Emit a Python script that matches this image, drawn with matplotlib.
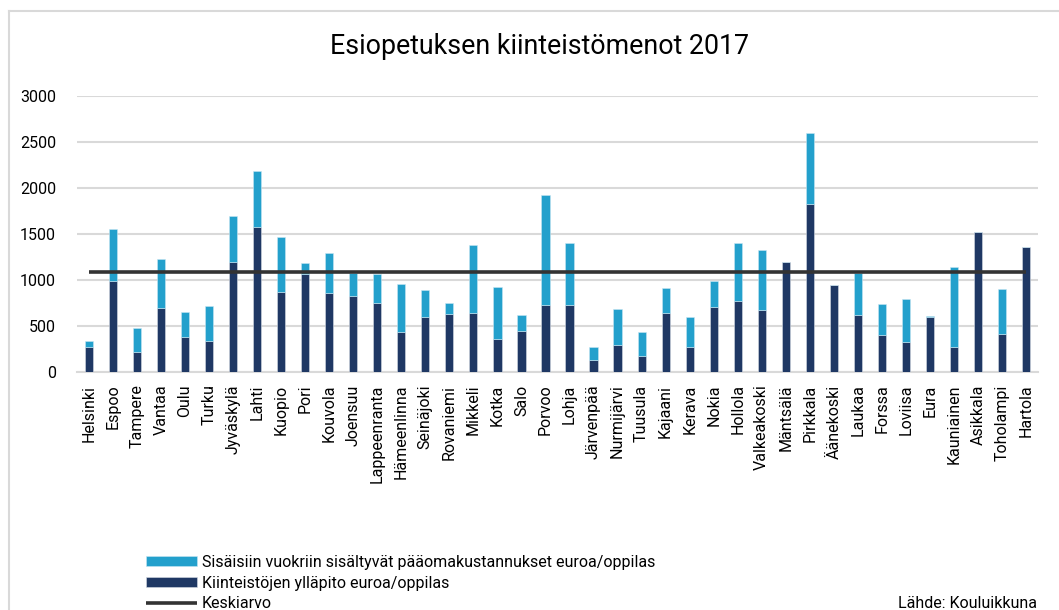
import matplotlib.pyplot as plt
import numpy as np

plt.rc('font', family=['Roboto', 'DejaVu Sans'], size=11.5)

# Data =======================================================================
kunnat = ['Helsinki', 'Espoo', 'Tampere', 'Vantaa', 'Oulu', 'Turku', 'Jyväskylä',
          'Lahti', 'Kuopio', 'Pori', 'Kouvola', 'Joensuu', 'Lappeenranta',
          'Hämeenlinna', 'Seinäjoki', 'Rovaniemi', 'Mikkeli', 'Kotka', 'Salo',
          'Porvoo', 'Lohja', 'Järvenpää', 'Nurmijärvi', 'Tuusula', 'Kajaani',
          'Kerava', 'Nokia', 'Hollola', 'Valkeakoski', 'Mäntsälä', 'Pirkkala',
          'Äänekoski', 'Laukaa', 'Forssa', 'Loviisa', 'Eura', 'Kauniainen',
          'Asikkala', 'Toholampi', 'Hartola']

# Kiinteistöjen ylläpito euroa/oppilas
yllapito = [270, 990, 217, 693, 379, 336, 1191, 1581, 866, 1061, 859, 830, 747,
            433, 596, 628, 643, 357, 444, 726, 726, 130, 292, 173, 639,
            274, 704, 773, 671, 1191, 1830, 946, 625, 401, 321, 599, 271,
            1520, 412, 1357]

# kokonaissumma (ylläpito + pääomakustannukset)
yhteensa = [340, 1556, 473, 1227, 657, 722, 1697, 2188, 1462, 1180, 1289, 1076, 1065,
            957, 892, 751, 1383, 924, 625, 1921, 1404, 271, 686, 433, 913,
            603, 989, 1397, 1325, 1191, 2596, 946, 1076, 744, 794, 606, 1141,
            1520, 903, 1357]

keskiarvo = 1083

paaoma = np.array(yhteensa) - np.array(yllapito)
x = np.arange(len(kunnat))

# Plot ========================================================================
fig = plt.figure(figsize=(10.59, 6.10), dpi=100)
ax = fig.add_axes([77 / 1059, 1 - 372 / 610, 961 / 1059, 276 / 610])

b_dark = ax.bar(x, yllapito, width=0.34, color='#1f3864', edgecolor='#d6dce5',
                linewidth=0.4, label='Kiinteistöjen ylläpito euroa/oppilas', zorder=3)
b_light = ax.bar(x, paaoma, bottom=yllapito, width=0.34, color='#23a0cc',
                 edgecolor='#c7e6f2', linewidth=0.4,
                 label='Sisäisiin vuokriin sisältyvät pääomakustannukset euroa/oppilas', zorder=3)
l_mean, = ax.plot([x[0], x[-1]], [keskiarvo, keskiarvo], color='#333333', lw=2.6,
                  solid_capstyle='butt', label='Keskiarvo', zorder=4)

ax.set_xlim(-0.5, len(kunnat) - 0.5)
ax.set_ylim(0, 3000)
ax.set_yticks(range(0, 3001, 500))
ax.set_xticks(x)
ax.set_xticklabels(kunnat, rotation=90)
ax.tick_params(axis='both', length=0, labelsize=11.5, colors='black')
ax.tick_params(axis='y', pad=15)
ax.tick_params(axis='x', pad=9)
ax.grid(axis='y', color='#d9d9d9', lw=1.5, zorder=0)
for s in ['top', 'right', 'left']:
    ax.spines[s].set_visible(False)
ax.spines['bottom'].set_color('#d9d9d9')
ax.spines['bottom'].set_linewidth(1.5)
ax.set_axisbelow(True)

fig.text(539 / 1059, 1 - 46 / 610, 'Esiopetuksen kiinteistömenot 2017',
         ha='center', va='center', fontsize=19.3)

fig.legend([b_light, b_dark, l_mean],
           [b_light.get_label(), b_dark.get_label(), l_mean.get_label()],
           loc='upper left', bbox_to_anchor=(146 / 1059, 1 - 555 / 610),
           frameon=False, borderpad=0, borderaxespad=0, handlelength=3.2,
           handleheight=0.56, handletextpad=0.31, labelspacing=0.36, fontsize=11.5)

fig.text(1037 / 1059, 1 - 603 / 610, 'Lähde: Kouluikkuna', ha='right', va='center',
         fontsize=11.5)

# outer frame (left and top visible)
fig.add_artist(plt.Line2D([9 / 1059, 9 / 1059], [0, 1 - 11 / 610],
                          transform=fig.transFigure, color='#d9d9d9', lw=1.5))
fig.add_artist(plt.Line2D([9 / 1059, 1], [1 - 11 / 610, 1 - 11 / 610],
                          transform=fig.transFigure, color='#d9d9d9', lw=1.5))

plt.savefig('out.png', dpi=100)
plt.close()
